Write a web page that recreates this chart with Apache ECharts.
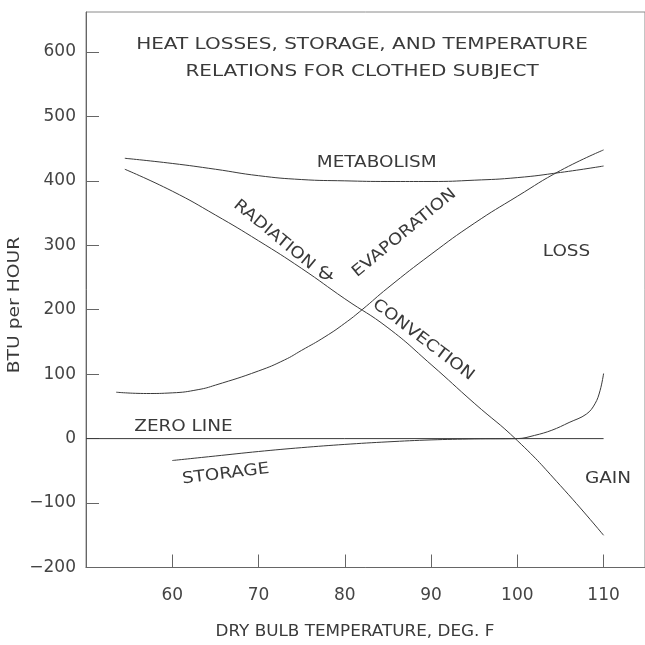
<!DOCTYPE html>
<html><head><meta charset="utf-8">
<script src="https://cdn.jsdelivr.net/npm/echarts@6/dist/echarts.min.js"></script>
<style>html,body{margin:0;padding:0;background:#fff}#c{width:645px;height:645px}</style>
</head><body><div id="c"></div>
<script>
// Data (x: dry bulb temperature °F, y: BTU per hour)
const metabolism = [[54.5,435],[60,427],[65,418],[70,408],[75,402],[80,400],[85,399],[90,399],[95,401],[100,405],[105,413],[110,423]];
const radiationConvection = [[54.5,418],[60,384],[65,347],[70,307],[75,264],[80,217],[85,172],[90,115],[95,55],[100,-3],[105,-73],[110,-150]];
const evaporation = [[53.5,72],[57,70],[60,71],[63,76],[65,83],[70,105],[73,122],[75,137],[77.7,158],[80,179],[82,200],[85,234],[90,286],[95,334],[100,376],[105,416],[110,448]];
const storage = [[60,-34],[65,-27],[70,-20],[75,-14],[80,-9],[85,-5],[90,-2],[95,-0.5],[100,0],[102,5],[104,13],[106,25],[108,38],[109,54],[109.6,75],[110,101]];
const zeroLine = [[50,0],[110,0]];

const titleLines = ['HEAT LOSSES, STORAGE, AND TEMPERATURE', 'RELATIONS FOR CLOTHED SUBJECT'];
const xAxisName = 'DRY BULB TEMPERATURE, DEG. F';
const yAxisName = 'BTU per HOUR';

// Curve annotations anchored in data coordinates
const annotationText = ['METABOLISM','RADIATION','&','EVAPORATION','CONVECTION','LOSS','GAIN','ZERO LINE','STORAGE'];
const annotationAt = [[83.7,428],[71.8,316],[77.8,255],[86.9,319],[89.1,153],[105.7,290],[110.5,-63],[61.3,18],[66.2,-55]];
const annotationRot = [0,-0.69,0,0.69,-0.65,0,0,0,0.12];

const FONT = '"DejaVu Sans", "Liberation Sans", sans-serif';
const INK = '#3a3a3a';
const chart = echarts.init(document.getElementById('c'), null, {renderer:'canvas'});

function lineSeries(name, data, smooth){
  return {name, type:'line', data, showSymbol:false, smooth:smooth,
    lineStyle:{color:INK, width:1}, silent:true, animation:false};
}
const neg = v => (v < 0 ? '\u2212' + Math.abs(v) : String(v));

chart.setOption({
  animation:false,
  backgroundColor:'#fff',
  grid:{left:86, right:-2, top:12, bottom:77.5, show:true, borderColor:'#8a8a8a', borderWidth:1},
  xAxis:{type:'value', min:50, max:114.8, interval:10,
    axisLine:{onZero:false, lineStyle:{color:'#666', width:1}},
    axisTick:{inside:true, length:13, lineStyle:{color:'#666'}},
    axisLabel:{showMinLabel:false, showMaxLabel:false, margin:20, fontFamily:FONT, fontSize:17, color:'#444'},
    splitLine:{show:false}},
  yAxis:{type:'value', min:-200, max:662, interval:100,
    axisLine:{show:true, onZero:false, lineStyle:{color:'#666', width:1}},
    axisTick:{show:true, inside:true, length:13, lineStyle:{color:'#666'}},
    axisLabel:{showMaxLabel:false, margin:10, fontFamily:FONT, fontSize:17, color:'#444', formatter:neg},
    splitLine:{show:false}},
  series:[
    lineSeries('Metabolism', metabolism, 0.5),
    lineSeries('Radiation & Convection', radiationConvection, 0.5),
    lineSeries('Evaporation', evaporation, 0.5),
    lineSeries('Storage', storage, 0.4),
    lineSeries('Zero line', zeroLine, false)
  ]
});

function txt(t, x, y, rot, size, sx){
  return {type:'text', x, y, rotation:rot, scaleX:sx, silent:true,
    style:{text:t, fill:INK, font:size + 'px ' + FONT, align:'center', verticalAlign:'middle', textAlign:'center', textVerticalAlign:'middle'}};
}
const g = [];
titleLines.forEach((t,i) => g.push(txt(t, 362, 45 + i*27, 0, 16, 1.25)));
g.push(txt(xAxisName, 355, 632, 0, 16, 1.05));
g.push(txt(yAxisName, 15, 305, Math.PI/2, 16, 1.17));
annotationText.forEach((t,i) => {
  const p = chart.convertToPixel({gridIndex:0}, annotationAt[i]);
  g.push(txt(t, p[0], p[1], annotationRot[i], t === '&' ? 18 : 16, 1.15));
});
chart.setOption({graphic:g});
</script></body></html>
